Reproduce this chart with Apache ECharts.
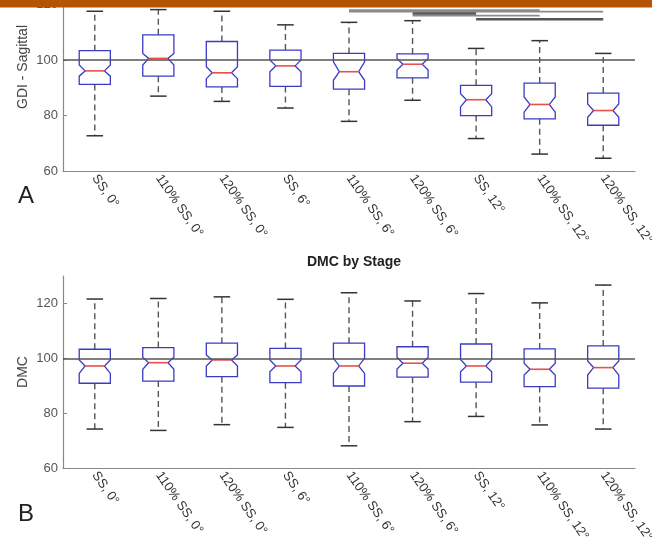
<!DOCTYPE html>
<html>
<head>
<meta charset="utf-8">
<script src="https://cdn.jsdelivr.net/npm/echarts@6/dist/echarts.min.js"></script>
<style>
  html, body { margin: 0; padding: 0; background: #fff; }
  #chart { width: 652px; height: 539px; }
</style>
</head>
<body>
<div id="chart"></div>
<script>
// categories (stages)
const categories = ['SS, 0°', '110% SS, 0°', '120% SS, 0°', 'SS, 6°', '110% SS, 6°',
  '120% SS, 6°', 'SS, 12°', '110% SS, 12°', '120% SS, 12°'];

// panel A - GDI Sagittal
const gdiHigh    = [117.6, 118.2, 117.6, 112.7, 113.6, 114.2, 104.2, 107.0, 102.4];
const gdiQ3      = [103.4, 109.1, 106.7, 103.6, 102.4, 102.2, 90.9, 91.7, 88.1];
const gdiNotchHi = [98.2, 102.4, 97.6, 100.0, 99.4, 100.6, 87.9, 86.7, 84.2];
const gdiMed     = [96.1, 100.6, 95.4, 97.9, 95.8, 98.5, 85.7, 84.0, 81.8];
const gdiNotchLo = [94.2, 98.2, 93.3, 95.8, 92.7, 96.4, 83.1, 81.2, 79.4];
const gdiQ1      = [91.2, 94.2, 90.3, 90.5, 89.5, 93.6, 80.0, 78.8, 76.5];
const gdiLow     = [72.7, 87.0, 85.1, 82.7, 77.9, 85.5, 71.7, 66.1, 64.6];

// panel B - DMC
const dmcHigh    = [121.6, 121.8, 122.4, 121.5, 123.9, 120.9, 123.6, 120.2, 126.7];
const dmcQ3      = [103.3, 103.9, 105.5, 103.6, 105.5, 104.2, 105.2, 103.4, 104.5];
const dmcNotchHi = [99.4, 100.4, 101.2, 99.4, 100.0, 100.4, 99.6, 98.2, 99.0];
const dmcMed     = [97.2, 98.4, 99.4, 97.2, 97.2, 98.2, 97.2, 96.0, 96.6];
const dmcNotchLo = [94.5, 96.0, 97.2, 95.1, 94.5, 96.1, 95.1, 93.9, 93.9];
const dmcQ1      = [90.9, 91.7, 93.3, 91.1, 89.9, 93.1, 91.3, 89.7, 89.1];
const dmcLow     = [74.2, 73.7, 75.8, 74.8, 68.1, 76.9, 78.8, 75.7, 74.2];

// significance bars on panel A: [from index, to index, y value]
const sigLight = [[4, 7, 118.0], [4, 8, 117.5], [5, 7, 116.0]];
const sigDark  = [[5, 6, 116.8], [6, 8, 114.7]];

const yTicks = [60, 80, 100, 120];
const refValue = 100;

function boxData(low, q1, nlo, med, nhi, q3, high) {
  return categories.map((c, i) => [i, low[i], q1[i], nlo[i], med[i], nhi[i], q3[i], high[i]]);
}

function renderBox(params, api) {
  const idx = api.value(0);
  const band = api.size([1, 0])[0];
  const x = api.coord([idx, api.value(4)])[0];
  const y = v => api.coord([idx, v])[1];
  const yLow = y(api.value(1)), yQ1 = y(api.value(2)), yNl = y(api.value(3));
  const yMed = y(api.value(4)), yNh = y(api.value(5)), yQ3 = y(api.value(6)), yHigh = y(api.value(7));
  const hw = band * 0.245, nw = hw * 0.62, cw = band * 0.13;
  const dash = { stroke: '#555', lineWidth: 1.4, lineDash: [6, 4] };
  const cap = { stroke: '#333', lineWidth: 1.5 };
  return {
    type: 'group',
    children: [
      { type: 'line', shape: { x1: x, y1: yQ3, x2: x, y2: yHigh }, style: dash },
      { type: 'line', shape: { x1: x, y1: yQ1, x2: x, y2: yLow }, style: dash },
      { type: 'line', shape: { x1: x - cw, y1: yHigh, x2: x + cw, y2: yHigh }, style: cap },
      { type: 'line', shape: { x1: x - cw, y1: yLow, x2: x + cw, y2: yLow }, style: cap },
      {
        type: 'polygon',
        shape: { points: [
          [x - hw, yQ3], [x + hw, yQ3], [x + hw, yNh], [x + nw, yMed], [x + hw, yNl],
          [x + hw, yQ1], [x - hw, yQ1], [x - hw, yNl], [x - nw, yMed], [x - hw, yNh]
        ] },
        style: { fill: 'none', stroke: '#3b3bc4', lineWidth: 1.3 }
      },
      { type: 'line', shape: { x1: x - nw, y1: yMed, x2: x + nw, y2: yMed },
        style: { stroke: '#e8504a', lineWidth: 1.6 } }
    ]
  };
}

function renderSig(color, width) {
  return function (params, api) {
    const p1 = api.coord([api.value(0), api.value(2)]);
    const p2 = api.coord([api.value(1), api.value(2)]);
    return { type: 'line', shape: { x1: p1[0], y1: p1[1], x2: p2[0], y2: p2[1] },
      style: { stroke: color, lineWidth: width } };
  };
}

function xAxisCfg(gridIndex) {
  return {
    type: 'category',
    gridIndex: gridIndex,
    data: categories,
    boundaryGap: true,
    axisLine: { lineStyle: { color: '#888', width: 1.2 } },
    axisTick: { inside: true, length: 5, alignWithLabel: true, lineStyle: { color: '#888' } },
    axisLabel: {
      interval: 0, rotate: -55, margin: 5, color: '#333', fontSize: 13,
      fontFamily: "'Liberation Sans', Arial, sans-serif"
    },
    splitLine: { show: false }
  };
}

function yAxisCfg(gridIndex, name, max, gap) {
  return {
    type: 'value',
    gridIndex: gridIndex,
    min: yTicks[0], max: max, interval: 20,
    name: name, nameLocation: 'middle', nameGap: gap, nameMoveOverlap: false,
    nameTextStyle: { fontSize: 14, color: '#444', fontFamily: "'Liberation Sans', Arial, sans-serif" },
    axisLine: { show: true, lineStyle: { color: '#888', width: 1.2 } },
    axisTick: { show: true, inside: true, length: 4, lineStyle: { color: '#888' } },
    axisLabel: { color: '#555', fontSize: 13, margin: 5, showMaxLabel: false,
      fontFamily: "'Liberation Sans', Arial, sans-serif" },
    splitLine: { show: false }
  };
}

function refLine(xi, yi) {
  return {
    type: 'line', xAxisIndex: xi, yAxisIndex: yi, data: [], silent: true,
    markLine: {
      symbol: 'none', silent: true, label: { show: false },
      lineStyle: { color: '#555', width: 1.6, type: 'solid' },
      data: [{ yAxis: refValue }]
    }
  };
}

const chart = echarts.init(document.getElementById('chart'));
chart.setOption({
  backgroundColor: '#fff',
  animation: false,
  title: {
    text: 'DMC by Stage', left: 349, top: 250, textAlign: 'center',
    textStyle: { fontSize: 14, fontWeight: 'bold', color: '#222', fontFamily: "'Liberation Sans', Arial, sans-serif" }
  },
  grid: [
    { left: 63, right: 17, top: -37, height: 208, outerBoundsMode: 'none', containLabel: false },
    { left: 63, right: 17, top: 276, height: 192, outerBoundsMode: 'none', containLabel: false }
  ],
  xAxis: [xAxisCfg(0), xAxisCfg(1)],
  yAxis: [yAxisCfg(0, 'GDI - Sagittal', 135, 33), yAxisCfg(1, 'DMC', 130, 33)],
  series: [
    refLine(0, 0),
    refLine(1, 1),
    { type: 'custom', xAxisIndex: 0, yAxisIndex: 0, renderItem: renderBox,
      data: boxData(gdiLow, gdiQ1, gdiNotchLo, gdiMed, gdiNotchHi, gdiQ3, gdiHigh), clip: false, z: 3 },
    { type: 'custom', xAxisIndex: 1, yAxisIndex: 1, renderItem: renderBox,
      data: boxData(dmcLow, dmcQ1, dmcNotchLo, dmcMed, dmcNotchHi, dmcQ3, dmcHigh), clip: false, z: 3 },
    { type: 'custom', xAxisIndex: 0, yAxisIndex: 0, renderItem: renderSig('#8a8a8a', 1.8), data: sigLight, z: 4 },
    { type: 'custom', xAxisIndex: 0, yAxisIndex: 0, renderItem: renderSig('#555', 2.6), data: sigDark, z: 4 }
  ],
  graphic: [
    { type: 'rect', left: 0, top: 0, z: 100, shape: { width: 652, height: 7.5 }, style: { fill: '#b55405' } },
    { type: 'text', left: 18, top: 184, style: { text: 'A', fontSize: 24, fill: '#222',
      fontFamily: "'Liberation Sans Narrow', 'Liberation Sans', sans-serif" } },
    { type: 'text', left: 18, top: 502, style: { text: 'B', fontSize: 24, fill: '#222',
      fontFamily: "'Liberation Sans Narrow', 'Liberation Sans', sans-serif" } }
  ]
});
window.addEventListener('resize', () => chart.resize());
</script>
</body>
</html>
